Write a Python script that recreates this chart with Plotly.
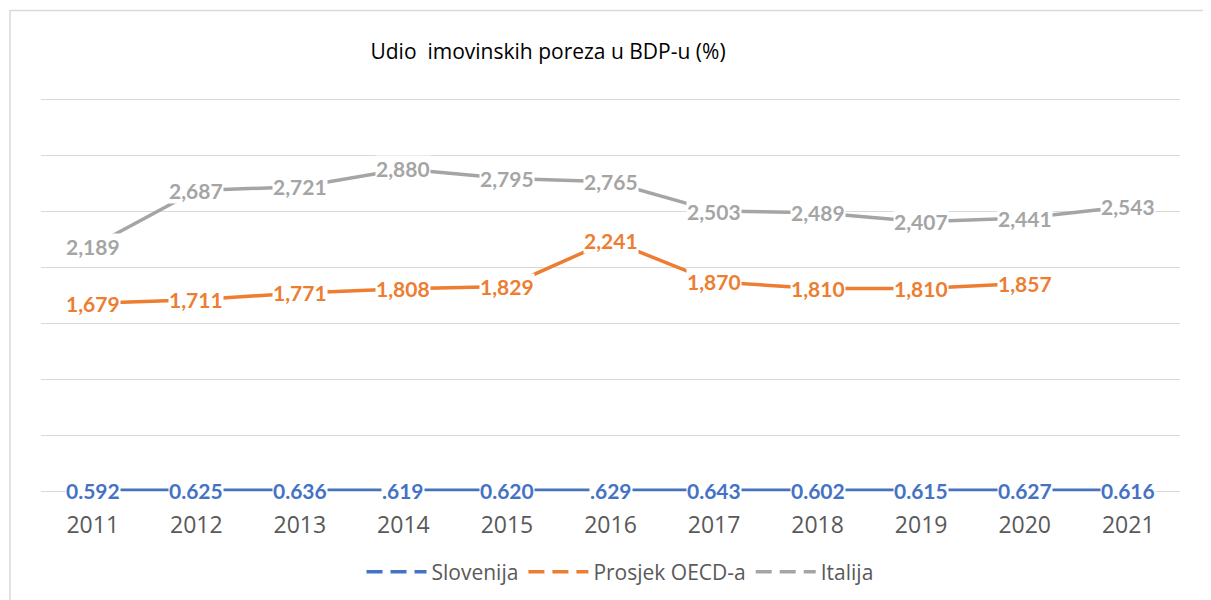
import plotly.graph_objects as go

years = ["2011", "2012", "2013", "2014", "2015", "2016", "2017", "2018", "2019", "2020", "2021"]
slovenija = [0.592, 0.625, 0.636, 0.619, 0.620, 0.629, 0.643, 0.602, 0.615, 0.627, 0.616]
slovenija_labels = ["0.592", "0.625", "0.636", ".619", "0.620", ".629", "0.643", "0.602", "0.615", "0.627", "0.616"]
oecd = [1.679, 1.711, 1.771, 1.808, 1.829, 2.241, 1.870, 1.810, 1.810, 1.857, None]
italija = [2.189, 2.687, 2.721, 2.880, 2.795, 2.765, 2.503, 2.489, 2.407, 2.441, 2.543]

names = ["Slovenija", "Prosjek OECD-a", "Italija"]
colors = ["#4472C4", "#ED7D31", "#A5A5A5"]

W, H = 1211, 600
OFF = 8  # page body offset
Y_TOP = 3.55
PX_PER_UNIT = (491 - 100) / 3.5


def fmt(v):
    return f"{v:,.3f}".replace(".", ",")


fig = go.Figure()

fig.add_trace(go.Scatter(x=years, y=italija, mode="lines", line=dict(color=colors[2], width=3.5),
                         showlegend=False, hoverinfo="skip"))
fig.add_trace(go.Scatter(x=years, y=oecd, mode="lines", line=dict(color=colors[1], width=3.5),
                         showlegend=False, hoverinfo="skip"))
fig.add_trace(go.Scatter(x=years, y=slovenija, mode="lines", line=dict(color=colors[0], width=3.5),
                         yaxis="y2", showlegend=False, hoverinfo="skip"))

for n, c in zip(names, colors):
    fig.add_trace(go.Scatter(x=[None], y=[None], mode="lines", name=n,
                             line=dict(color=c, width=3.5, dash="16px,8px")))

annotations = []
lbl_font = "Lato"
for i, v in enumerate(italija):
    if v is not None:
        annotations.append(dict(x=i, y=v, xref="x", yref="y", text="<b>" + fmt(v) + "</b>",
                                showarrow=False, bgcolor="white", borderpad=0,
                                font=dict(family=lbl_font, size=21, color=colors[2])))
for i, v in enumerate(oecd):
    if v is not None:
        annotations.append(dict(x=i, y=v, xref="x", yref="y", text="<b>" + fmt(v) + "</b>",
                                showarrow=False, bgcolor="white", borderpad=0,
                                font=dict(family=lbl_font, size=21, color=colors[1])))
for i, (v, t) in enumerate(zip(slovenija, slovenija_labels)):
    annotations.append(dict(x=i, y=v, xref="x", yref="y2", text="<b>" + t + "</b>",
                            showarrow=False, bgcolor="white", borderpad=0,
                            font=dict(family=lbl_font, size=21, color=colors[0])))

top_px = 100 - (Y_TOP - 3.5) * PX_PER_UNIT
pl, pr, pt, pb = 41 - OFF, 1180 - OFF, top_px - OFF, 491 - OFF
fig.update_layout(
    width=W, height=H,
    paper_bgcolor="white", plot_bgcolor="white",
    margin=dict(l=pl, r=W - pr, t=pt, b=H - pb),
    title=dict(text="Udio\u00a0 imovinskih poreza u BDP-u (%)", x=(548 - OFF) / W, xanchor="center",
               y=1 - (52 - OFF) / H, yanchor="middle", font=dict(family="Open Sans", size=21, color="black")),
    xaxis=dict(type="category", range=[-0.5, 10.5], showgrid=False, zeroline=False, showline=False,
               ticks="", ticklabelstandoff=18,
               tickfont=dict(family="Open Sans", size=23, color="#595959")),
    yaxis=dict(range=[0, Y_TOP], dtick=0.5, showgrid=True, gridcolor="#D9D9D9", gridwidth=1,
               showticklabels=False, zeroline=True, zerolinecolor="#D9D9D9", zerolinewidth=1),
    yaxis2=dict(range=[0, 300], overlaying="y", visible=False),
    legend=dict(orientation="h", x=(620 - OFF) / W, xref="container", xanchor="center",
                y=1 - (572 - OFF) / H, yref="container", yanchor="middle",
                font=dict(family="Open Sans", size=21, color="#595959"), itemwidth=60),
    annotations=annotations,
    shapes=[dict(type="rect", xref="paper", yref="paper",
                 x0=(10 - 41) / (pr - pl), x1=1.05, y0=-0.4, y1=(491 - 11) / (pb - pt),
                 line=dict(color="#D9D9D9", width=1.5), layer="below")],
    showlegend=True,
)

fig.write_html("out.html")
